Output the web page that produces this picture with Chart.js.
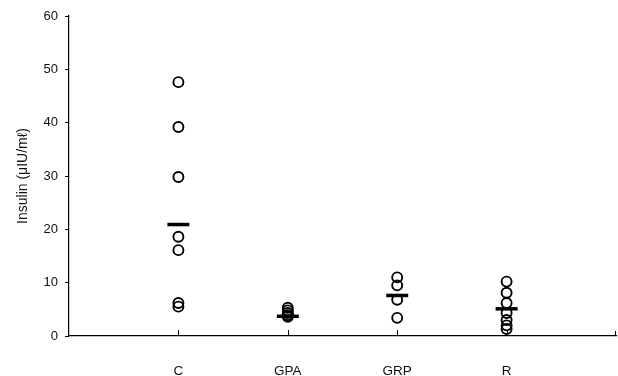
<!DOCTYPE html>
<html>
<head>
<meta charset="utf-8">
<script src="https://cdn.jsdelivr.net/npm/chart.js@4/dist/chart.umd.min.js"></script>
<style>
  html, body { margin: 0; padding: 0; background: #fff; }
  #wrap { width: 618px; height: 376px; position: relative; }
</style>
</head>
<body>
<div id="wrap"><canvas id="c" width="618" height="376"></canvas></div>
<script>
// Groups along the horizontal axis
const categories = ['C', 'GPA', 'GRP', 'R'];

// Individual insulin values (µIU/mL) per group
const cValues   = [47.6, 39.2, 29.8, 18.6, 16.1, 6.2, 5.5];
const gpaValues = [5.3, 4.8, 4.3, 3.9, 3.6];
const grpValues = [11.0, 9.5, 6.8, 3.4];
const rValues   = [10.2, 8.1, 6.2, 4.3, 3.0, 2.0, 1.3];

// Group means, drawn as short horizontal bars
const meanValues = [20.9, 3.7, 7.6, 5.1];

// Vertical axis ticks
const yTicks = [0, 10, 20, 30, 40, 50, 60];

const groups = [cValues, gpaValues, grpValues, rValues];
const points = [];
groups.forEach((vals, i) => vals.forEach(v => points.push({ x: i + 1, y: v })));
const means = meanValues.map((v, i) => ({ x: i + 1, y: v }));

// Small upward tick marks on the x axis at each group and at the right end
const inwardTicks = {
  id: 'inwardTicks',
  afterDraw(chart) {
    const { ctx, scales: { x, y } } = chart;
    const base = y.getPixelForValue(0);
    ctx.save();
    ctx.strokeStyle = '#000';
    ctx.lineWidth = 1;
    categories.forEach((_, i) => {
      const px = Math.round(x.getPixelForValue(i + 1)) + 0.5;
      ctx.beginPath();
      ctx.moveTo(px, base);
      ctx.lineTo(px, base - 6);
      ctx.stroke();
    });
    const end = Math.round(x.getPixelForValue(5)) - 0.5;
    ctx.beginPath();
    ctx.moveTo(end, base);
    ctx.lineTo(end, base - 5);
    ctx.stroke();
    ctx.restore();
  }
};

new Chart(document.getElementById('c'), {
  type: 'scatter',
  data: {
    datasets: [
      {
        data: points,
        pointStyle: 'circle',
        pointRadius: 5,
        pointBorderWidth: 1.9,
        borderColor: '#000',
        backgroundColor: 'rgba(0,0,0,0)',
        order: 2
      },
      {
        data: means,
        pointStyle: 'line',
        pointRadius: 11,
        pointBorderWidth: 3.5,
        borderColor: '#000',
        backgroundColor: '#000',
        order: 1
      }
    ]
  },
  options: {
    responsive: false,
    animation: false,
    events: [],
    layout: { autoPadding: false, padding: { top: 16, right: 2, left: 0, bottom: 0 } },
    plugins: {
      legend: { display: false },
      tooltip: { enabled: false }
    },
    scales: {
      x: {
        type: 'linear',
        min: 0,
        max: 5,
        grid: { display: false, drawTicks: false },
        border: { display: true, color: '#000', width: 1.2 },
        ticks: {
          stepSize: 1,
          autoSkip: false,
          maxRotation: 0,
          padding: 27,
          color: '#111',
          font: { family: 'Liberation Sans, Arial, sans-serif', size: 13.5 },
          callback: v => (v >= 1 && v <= categories.length) ? categories[v - 1] : ''
        },
        afterFit(scale) {
          scale.height = 40;
          scale.paddingLeft = 0;
          scale.paddingRight = 0;
        }
      },
      y: {
        min: 0,
        max: 60,
        afterBuildTicks(scale) { scale.ticks = yTicks.map(v => ({ value: v })); },
        grid: { display: true, drawOnChartArea: false, drawTicks: true, tickLength: 4, color: '#000', tickWidth: 1 },
        border: { display: true, color: '#000', width: 1.2 },
        ticks: {
          padding: 7,
          color: '#111',
          font: { family: 'Liberation Sans, Arial, sans-serif', size: 13 }
        },
        title: {
          display: true,
          text: 'Insulin (μIU/mℓ)',
          color: '#111',
          font: { family: 'Liberation Sans, Arial, sans-serif', size: 14 },
          padding: { top: 15, bottom: 0 }
        },
        afterFit(scale) { scale.width = 69; }
      }
    }
  },
  plugins: [inwardTicks]
});
</script>
</body>
</html>
